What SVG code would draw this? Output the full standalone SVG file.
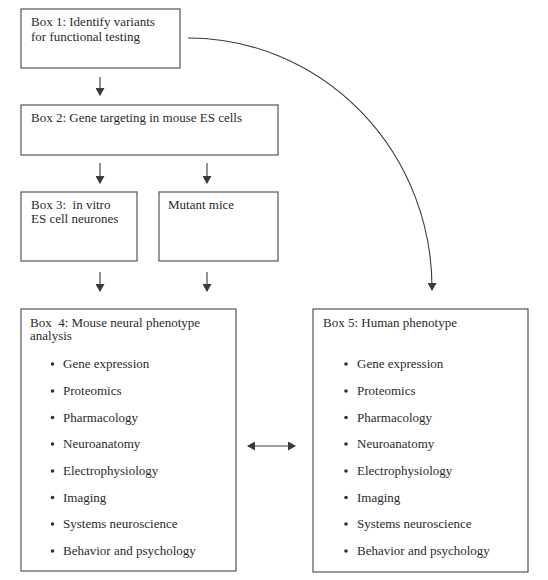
<svg xmlns="http://www.w3.org/2000/svg" width="548" height="580" viewBox="0 0 548 580">
<style>
.box{fill:none;stroke:#555;stroke-width:1.2}
.t{font-family:"Liberation Serif","Times New Roman",serif;font-size:13px;fill:#2a2a2a}
.c{fill:none;stroke:#3a3a3a;stroke-width:1.1}
.b{fill:#333}
</style>
<defs>
<marker id="ah" markerWidth="8" markerHeight="9" refX="7" refY="4.5" orient="auto" markerUnits="userSpaceOnUse">
<path d="M0,0 L8,4.5 L0,9 Z" fill="#3a3a3a"/>
</marker>
<marker id="ahs" markerWidth="8" markerHeight="9" refX="1" refY="4.5" orient="auto" markerUnits="userSpaceOnUse">
<path d="M8,0 L0,4.5 L8,9 Z" fill="#3a3a3a"/>
</marker>
</defs>
<rect width="548" height="580" fill="#fff"/>
<g id="box1">
<rect class="box" x="21" y="9" width="159" height="59"/>
<text class="t" x="31" y="26">Box 1: Identify variants</text>
<text class="t" x="31" y="40.5">for functional testing</text>
</g>
<g id="box2">
<rect class="box" x="21" y="105" width="257" height="50"/>
<text class="t" x="31" y="122">Box 2: Gene targeting in mouse ES cells</text>
</g>
<g id="box3">
<rect class="box" x="21" y="192" width="116" height="69"/>
<text class="t" x="31" y="208.5" xml:space="preserve">Box 3:  in vitro</text>
<text class="t" x="31" y="223">ES cell neurones</text>
</g>
<g id="mutant">
<rect class="box" x="159" y="192" width="119" height="69"/>
<text class="t" x="168" y="208.5">Mutant mice</text>
</g>
<g id="box4">
<rect class="box" x="21" y="309" width="215" height="262"/>
<text class="t" x="30" y="326.5" xml:space="preserve">Box  4: Mouse neural phenotype</text>
<text class="t" x="30" y="340">analysis</text>
<g class="b">
<circle cx="52.5" cy="364" r="1.8"/><circle cx="52.5" cy="391" r="1.8"/><circle cx="52.5" cy="417.5" r="1.8"/><circle cx="52.5" cy="444" r="1.8"/><circle cx="52.5" cy="471" r="1.8"/><circle cx="52.5" cy="497.5" r="1.8"/><circle cx="52.5" cy="524" r="1.8"/><circle cx="52.5" cy="551" r="1.8"/>
</g>
<text class="t" x="63" y="368">Gene expression</text>
<text class="t" x="63" y="395">Proteomics</text>
<text class="t" x="63" y="421.5">Pharmacology</text>
<text class="t" x="63" y="448">Neuroanatomy</text>
<text class="t" x="63" y="475">Electrophysiology</text>
<text class="t" x="63" y="501.5">Imaging</text>
<text class="t" x="63" y="528">Systems neuroscience</text>
<text class="t" x="63" y="555">Behavior and psychology</text>
</g>
<g id="box5">
<rect class="box" x="313" y="309" width="215" height="263"/>
<text class="t" x="323" y="326.5">Box 5: Human phenotype</text>
<g class="b">
<circle cx="346" cy="364" r="1.8"/><circle cx="346" cy="391" r="1.8"/><circle cx="346" cy="417.5" r="1.8"/><circle cx="346" cy="444" r="1.8"/><circle cx="346" cy="471" r="1.8"/><circle cx="346" cy="497.5" r="1.8"/><circle cx="346" cy="524" r="1.8"/><circle cx="346" cy="551" r="1.8"/>
</g>
<text class="t" x="357" y="368">Gene expression</text>
<text class="t" x="357" y="395">Proteomics</text>
<text class="t" x="357" y="421.5">Pharmacology</text>
<text class="t" x="357" y="448">Neuroanatomy</text>
<text class="t" x="357" y="475">Electrophysiology</text>
<text class="t" x="357" y="501.5">Imaging</text>
<text class="t" x="357" y="528">Systems neuroscience</text>
<text class="t" x="357" y="555">Behavior and psychology</text>
</g>
<g id="connectors">
<path class="c" d="M100,77 L100,95" marker-end="url(#ah)"/>
<path class="c" d="M100,163 L100,183" marker-end="url(#ah)"/>
<path class="c" d="M207,163 L207,183" marker-end="url(#ah)"/>
<path class="c" d="M100,272 L100,291" marker-end="url(#ah)"/>
<path class="c" d="M207,272 L207,291" marker-end="url(#ah)"/>
<path class="c" d="M188,38 A244,250 0 0 1 432,290" marker-end="url(#ah)"/>
<path class="c" d="M248,446 L295,446" marker-start="url(#ahs)" marker-end="url(#ah)"/>
</g>
</svg>
